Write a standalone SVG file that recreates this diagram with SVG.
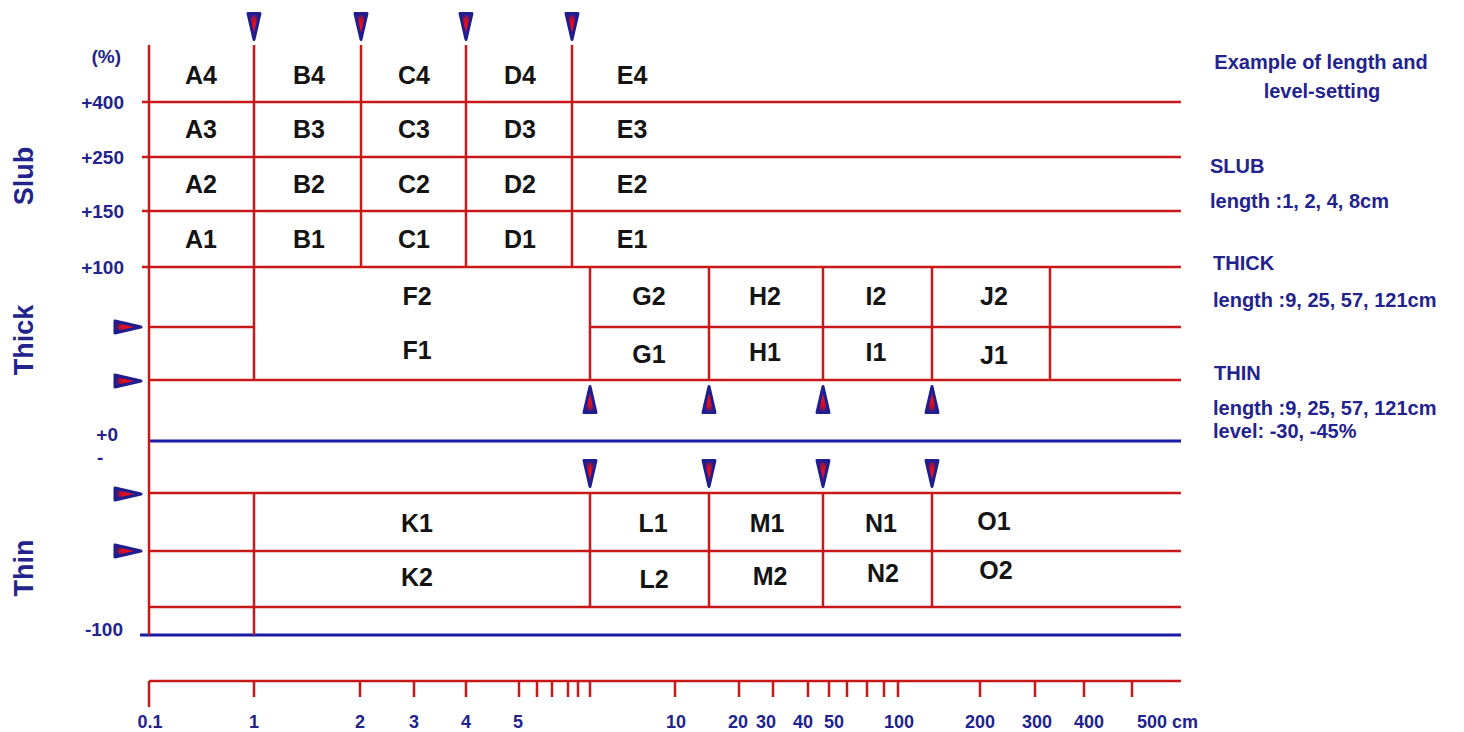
<svg xmlns="http://www.w3.org/2000/svg" xmlns:xlink="http://www.w3.org/1999/xlink" width="1464" height="732" viewBox="0 0 1464 732">
<style>
.r{stroke:#c81818;stroke-width:2.5;fill:none}
.b{stroke:#1a1aa6;stroke-width:3;fill:none}
.c{font-family:"Liberation Sans",Arial,sans-serif;font-weight:bold;font-size:25px;fill:#141414;text-anchor:middle}
.n{font-family:"Liberation Sans",Arial,sans-serif;font-weight:bold;fill:#23238e}
.lv{font-size:19px;text-anchor:end}
.ax{font-size:18px;text-anchor:middle}
.side{font-size:27px;text-anchor:middle}
.info{font-size:20px}
</style>
<defs>
<radialGradient id="tg" cx="0.5" cy="0.5" r="0.5">
<stop offset="0" stop-color="#ee1020"/>
<stop offset="0.55" stop-color="#c81028"/>
<stop offset="1" stop-color="#2a1a8a"/>
</radialGradient>
<polygon id="td" points="-6,-13 6,-13 0,13" fill="url(#tg)" stroke="#1e1e90" stroke-width="3" stroke-linejoin="round"/>
<polygon id="tu" points="-6,13 6,13 0,-13" fill="url(#tg)" stroke="#1e1e90" stroke-width="3" stroke-linejoin="round"/>
<polygon id="tr" points="-13,-6 -13,6 13,0" fill="url(#tg)" stroke="#1e1e90" stroke-width="3" stroke-linejoin="round"/>
</defs>
<rect width="1464" height="732" fill="#ffffff"/>

<g id="connectors">
<line class="r" x1="142" y1="102" x2="1181" y2="102"/>
<line class="r" x1="142" y1="157" x2="1181" y2="157"/>
<line class="r" x1="142" y1="211" x2="1181" y2="211"/>
<line class="r" x1="142" y1="267" x2="1181" y2="267"/>
<line class="r" x1="149" y1="327" x2="254" y2="327"/>
<line class="r" x1="590" y1="327" x2="1181" y2="327"/>
<line class="r" x1="149" y1="380" x2="1181" y2="380"/>
<line class="b" x1="149" y1="441" x2="1181" y2="441"/>
<line class="r" x1="149" y1="493" x2="1181" y2="493"/>
<line class="r" x1="149" y1="551" x2="1181" y2="551"/>
<line class="r" x1="149" y1="607" x2="1181" y2="607"/>
<line class="b" x1="140" y1="635" x2="1181" y2="635"/>
<line class="r" x1="149" y1="45" x2="149" y2="635"/>
<line class="r" x1="254" y1="45" x2="254" y2="380"/>
<line class="r" x1="361" y1="45" x2="361" y2="267"/>
<line class="r" x1="466" y1="45" x2="466" y2="267"/>
<line class="r" x1="572" y1="45" x2="572" y2="267"/>
<line class="r" x1="590" y1="267" x2="590" y2="380"/>
<line class="r" x1="709" y1="267" x2="709" y2="380"/>
<line class="r" x1="823" y1="267" x2="823" y2="380"/>
<line class="r" x1="932" y1="267" x2="932" y2="380"/>
<line class="r" x1="1050" y1="267" x2="1050" y2="380"/>
<line class="r" x1="254" y1="493" x2="254" y2="635"/>
<line class="r" x1="590" y1="493" x2="590" y2="607"/>
<line class="r" x1="709" y1="493" x2="709" y2="607"/>
<line class="r" x1="823" y1="493" x2="823" y2="607"/>
<line class="r" x1="932" y1="493" x2="932" y2="607"/>
</g>

<g id="markers">
<use href="#td" x="254" y="26.5"/>
<use href="#td" x="361" y="26.5"/>
<use href="#td" x="466" y="26.5"/>
<use href="#td" x="572" y="26.5"/>
<use href="#tu" x="590" y="399.5"/>
<use href="#tu" x="709" y="399.5"/>
<use href="#tu" x="823" y="399.5"/>
<use href="#tu" x="932" y="399.5"/>
<use href="#td" x="590" y="473.5"/>
<use href="#td" x="709" y="473.5"/>
<use href="#td" x="823" y="473.5"/>
<use href="#td" x="932" y="473.5"/>
<use href="#tr" x="128" y="327"/>
<use href="#tr" x="128" y="381"/>
<use href="#tr" x="128" y="494"/>
<use href="#tr" x="128" y="551"/>
</g>

<g id="slub-cells">
<text class="c" x="201" y="84">A4</text><text class="c" x="309" y="84">B4</text><text class="c" x="414" y="84">C4</text><text class="c" x="520" y="84">D4</text><text class="c" x="632" y="84">E4</text>
<text class="c" x="201" y="138">A3</text><text class="c" x="309" y="138">B3</text><text class="c" x="414" y="138">C3</text><text class="c" x="520" y="138">D3</text><text class="c" x="632" y="138">E3</text>
<text class="c" x="201" y="193">A2</text><text class="c" x="309" y="193">B2</text><text class="c" x="414" y="193">C2</text><text class="c" x="520" y="193">D2</text><text class="c" x="632" y="193">E2</text>
<text class="c" x="201" y="248">A1</text><text class="c" x="309" y="248">B1</text><text class="c" x="414" y="248">C1</text><text class="c" x="520" y="248">D1</text><text class="c" x="632" y="248">E1</text>
</g>

<g id="thick-cells">
<text class="c" x="417" y="305">F2</text><text class="c" x="649" y="305">G2</text><text class="c" x="765" y="305">H2</text><text class="c" x="876" y="305">I2</text><text class="c" x="994" y="305">J2</text>
<text class="c" x="417" y="359">F1</text><text class="c" x="649" y="363">G1</text><text class="c" x="765" y="361">H1</text><text class="c" x="876" y="361">I1</text><text class="c" x="994" y="364">J1</text>
</g>

<g id="thin-cells">
<text class="c" x="417" y="532">K1</text><text class="c" x="653" y="532">L1</text><text class="c" x="767" y="532">M1</text><text class="c" x="881" y="532">N1</text><text class="c" x="994" y="530">O1</text>
<text class="c" x="417" y="586">K2</text><text class="c" x="654" y="588">L2</text><text class="c" x="770" y="585">M2</text><text class="c" x="883" y="582">N2</text><text class="c" x="996" y="579">O2</text>
</g>

<g id="levels">
<text class="n lv" x="121" y="63">(%)</text>
<text class="n lv" x="124" y="109">+400</text>
<text class="n lv" x="124" y="164">+250</text>
<text class="n lv" x="124" y="218">+150</text>
<text class="n lv" x="124" y="274">+100</text>
<text class="n lv" x="118" y="441">+0</text>
<text class="n" x="97" y="464" font-size="19">-</text>
<text class="n lv" x="123" y="636">-100</text>
</g>

<g id="section-labels">
<text class="n side" transform="translate(33,176) rotate(-90)">Slub</text>
<text class="n side" transform="translate(33,340) rotate(-90)">Thick</text>
<text class="n side" transform="translate(33,568) rotate(-90)">Thin</text>
</g>

<g id="axis">
<line class="r" x1="149" y1="681" x2="1181" y2="681"/>
<path class="r" d="M149 681V707M254 681V697M360 681V697M414 681V697M466 681V697M519 681V697M537 681V697M552 681V697M568 681V697M578 681V697M590 681V697M675 681V697M739 681V697M773 681V697M808 681V697M829 681V697M847 681V697M867 681V697M884 681V697M898 681V697M980 681V697M1035 681V697M1084 681V697M1132 681V697"/>
<text class="n ax" x="150" y="728">0.1</text>
<text class="n ax" x="254" y="728">1</text>
<text class="n ax" x="360" y="728">2</text>
<text class="n ax" x="414" y="728">3</text>
<text class="n ax" x="466" y="728">4</text>
<text class="n ax" x="518" y="728">5</text>
<text class="n ax" x="676" y="728">10</text>
<text class="n ax" x="738" y="728">20</text>
<text class="n ax" x="766" y="728">30</text>
<text class="n ax" x="803" y="728">40</text>
<text class="n ax" x="834" y="728">50</text>
<text class="n ax" x="899" y="728">100</text>
<text class="n ax" x="980" y="728">200</text>
<text class="n ax" x="1037" y="728">300</text>
<text class="n ax" x="1089" y="728">400</text>
<text class="n" x="1137" y="728" font-size="18">500 cm</text>
</g>

<g id="legend">
<text class="n info" x="1321" y="69" text-anchor="middle">Example of length and</text>
<text class="n info" x="1322" y="98" text-anchor="middle">level-setting</text>
<text class="n info" x="1210" y="173">SLUB</text>
<text class="n info" x="1210" y="208">length :1, 2, 4, 8cm</text>
<text class="n info" x="1213" y="270">THICK</text>
<text class="n info" x="1213" y="307">length :9, 25, 57, 121cm</text>
<text class="n info" x="1214" y="380">THIN</text>
<text class="n info" x="1213" y="415">length :9, 25, 57, 121cm</text>
<text class="n info" x="1213" y="438">level: -30, -45%</text>
</g>
</svg>
